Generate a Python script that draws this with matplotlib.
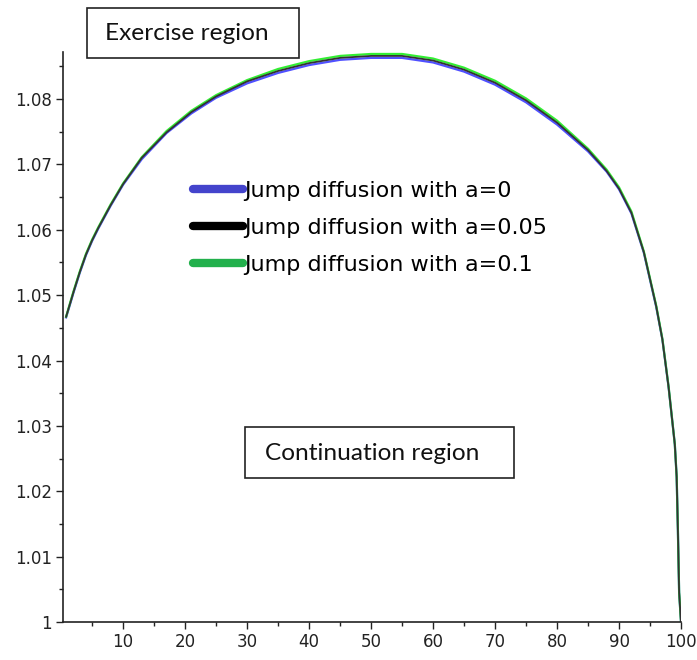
import numpy as np
import matplotlib
matplotlib.use('Agg')
import matplotlib.pyplot as plt
from matplotlib.lines import Line2D
from matplotlib.patches import Rectangle
from matplotlib.ticker import MultipleLocator

# Fronteira de exercício
x = [0.8, 1.5, 2, 3, 4, 5, 6, 8, 10, 13, 17, 21, 25, 30, 35, 40, 45, 50, 55,
     60, 65, 70, 75, 80, 85, 88, 90, 92, 94, 96, 97, 98, 99, 99.3, 99.5,
     99.7, 100]

y_a01 = [1.0467, 1.0490, 1.0506, 1.0536, 1.0563, 1.0585, 1.0604, 1.0639,
         1.0671, 1.0711, 1.0751, 1.0782, 1.0806, 1.0829, 1.0846, 1.0858,
         1.0866, 1.0869, 1.0869, 1.0862, 1.0848, 1.0828, 1.0801, 1.0767,
         1.0724, 1.0692, 1.0665, 1.0628, 1.0567, 1.0484, 1.0433, 1.0360,
         1.0272, 1.0222, 1.0140, 1.0045, 1.0000]

y_a005 = [1.0467, 1.0489, 1.0505, 1.0535, 1.0562, 1.0584, 1.0603, 1.0638,
          1.0670, 1.0710, 1.0749, 1.0780, 1.0804, 1.0827, 1.0843, 1.0855,
          1.0863, 1.0866, 1.0866, 1.0859, 1.0845, 1.0825, 1.0798, 1.0764,
          1.0722, 1.0690, 1.0663, 1.0626, 1.0566, 1.0483, 1.0432, 1.0359,
          1.0272, 1.0222, 1.0140, 1.0045, 1.0000]

y_a0 = [1.0466, 1.0488, 1.0504, 1.0534, 1.0561, 1.0583, 1.0602, 1.0637,
        1.0669, 1.0708, 1.0748, 1.0778, 1.0802, 1.0824, 1.0840, 1.0852,
        1.0860, 1.0863, 1.0863, 1.0856, 1.0842, 1.0822, 1.0795, 1.0761,
        1.0720, 1.0689, 1.0662, 1.0625, 1.0565, 1.0482, 1.0432, 1.0359,
        1.0272, 1.0222, 1.0140, 1.0045, 1.0000]

labels = ['Jump diffusion with a=0', 'Jump diffusion with a=0.05',
          'Jump diffusion with a=0.1']

fig = plt.figure(figsize=(6.97, 6.6), dpi=100)
ax = fig.add_axes([63 / 697, 38 / 660, 618 / 697, 570 / 660])

ax.plot(x, y_a0, color='#5050ff', lw=1.6)
ax.plot(x, y_a01, color='#33ee33', lw=1.6)
ax.plot(x, y_a005, color='#333333', lw=1.3)

ax.set_xlim(0.3, 100)
ax.set_ylim(1.0, 1.0872)

for s in ['top', 'right']:
    ax.spines[s].set_visible(False)
for s in ['left', 'bottom']:
    ax.spines[s].set_color('#222222')
    ax.spines[s].set_linewidth(1.2)

ax.xaxis.set_minor_locator(MultipleLocator(5))
ax.yaxis.set_minor_locator(MultipleLocator(0.005))
ax.set_xticks(range(10, 101, 10))
ax.set_yticks([1, 1.01, 1.02, 1.03, 1.04, 1.05, 1.06, 1.07, 1.08])
ax.set_yticklabels(['1', '1.01', '1.02', '1.03', '1.04', '1.05', '1.06', '1.07', '1.08'])
ax.tick_params(which='major', length=5, width=1, color='#222222',
               labelsize=12, pad=3, labelcolor='#222222')
ax.tick_params(which='minor', length=3, width=1, color='#222222')

# Legenda
handles = [Line2D([], [], color='#4444cc', lw=6, solid_capstyle='round'),
           Line2D([], [], color='black', lw=6, solid_capstyle='round'),
           Line2D([], [], color='#22b04c', lw=6, solid_capstyle='round')]
fig.legend(handles, labels, loc='upper left',
           bbox_to_anchor=(193 / 697, 1 - 181 / 660),
           frameon=False, fontsize=16, handlelength=2.25, handletextpad=0.05,
           labelspacing=0.77, borderpad=0, borderaxespad=0)

# Caixas de texto
fig.patches.append(Rectangle((87 / 697, 1 - 58 / 660), 212 / 697, 50 / 660,
                             transform=fig.transFigure, fill=False,
                             edgecolor='#222222', lw=1.2))
fig.text(105 / 697, 1 - 34 / 660, 'Exercise region', family='Lato',
         fontsize=17.6, va='center', ha='left', color='#111111')

fig.patches.append(Rectangle((245 / 697, 1 - 478 / 660), 269 / 697, 51 / 660,
                             transform=fig.transFigure, fill=False,
                             edgecolor='#222222', lw=1.2))
fig.text(265 / 697, 1 - 454 / 660, 'Continuation region', family='Lato',
         fontsize=17.6, va='center', ha='left', color='#111111')

plt.savefig('out.png', dpi=100)
